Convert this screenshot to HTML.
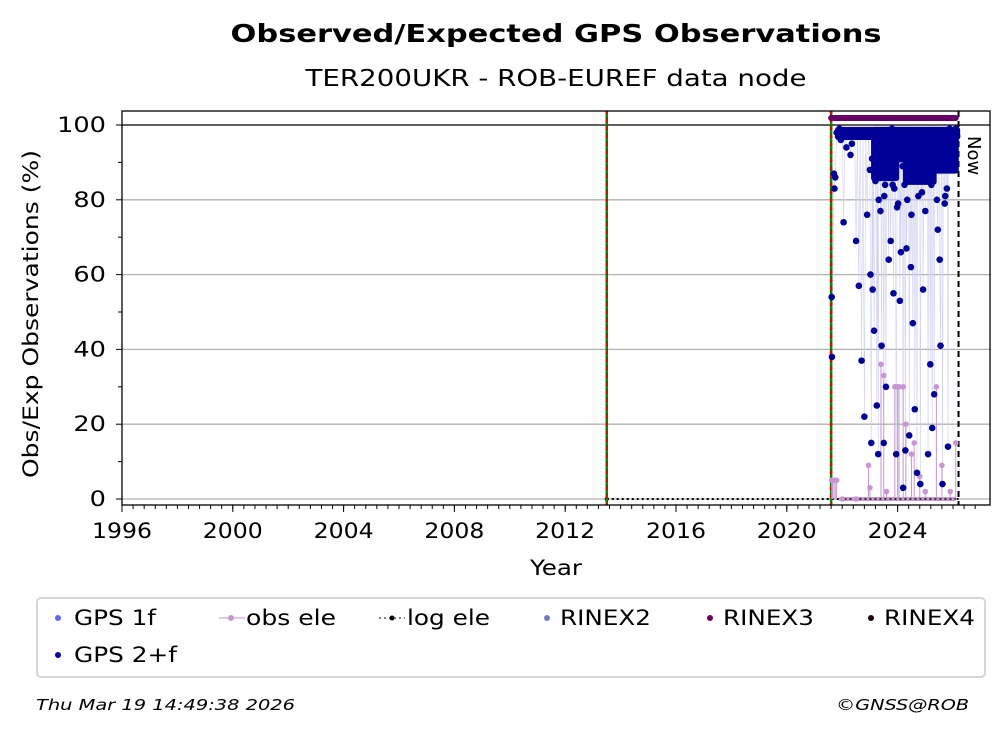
<!DOCTYPE html>
<html><head><meta charset="utf-8"><style>
body{margin:0;background:#fff;font-family:"Liberation Sans","DejaVu Sans",sans-serif}
svg text{font-family:"DejaVu Sans","Liberation Sans",sans-serif}
</style></head><body>
<svg id="c" width="1008" height="734" viewBox="0 0 1008 734" xmlns="http://www.w3.org/2000/svg">
<text x="556" y="42" text-anchor="middle" font-size="25" font-weight="bold" textLength="651" lengthAdjust="spacingAndGlyphs">Observed/Expected GPS Observations</text>
<text x="556" y="86" text-anchor="middle" font-size="23" textLength="501" lengthAdjust="spacingAndGlyphs">TER200UKR - ROB-EUREF data node</text>
<text transform="translate(38,314) rotate(-90)" text-anchor="middle" font-size="21" textLength="328" lengthAdjust="spacingAndGlyphs">Obs/Exp Observations (%)</text>
<text x="556" y="575" text-anchor="middle" font-size="21" textLength="52" lengthAdjust="spacingAndGlyphs">Year</text>
<g id="grid"></g><g id="axes"></g><g id="marks"></g>
<rect x="122" y="111" width="868" height="394" fill="none" stroke="#000" stroke-width="1.3"/>
<text transform="translate(968,136) rotate(90)" font-size="18">Now</text>
<g>
<rect x="37" y="598" width="948" height="79" rx="4" fill="#fff" stroke="#d6d6d6" stroke-width="2"/>
<circle cx="58" cy="618" r="3" fill="#6666ee"/><text x="74" y="625" font-size="21" textLength="82" lengthAdjust="spacingAndGlyphs">GPS 1f</text>
<line x1="219" y1="618" x2="245" y2="618" stroke="#c896d2"/><circle cx="231" cy="618" r="3" fill="#c896d2"/><text x="246" y="625" font-size="21" textLength="90" lengthAdjust="spacingAndGlyphs">obs ele</text>
<line x1="379" y1="618" x2="405" y2="618" stroke="#000" stroke-dasharray="2,3"/><circle cx="392" cy="618" r="2.5" fill="#000"/><text x="407" y="625" font-size="21" textLength="83" lengthAdjust="spacingAndGlyphs">log ele</text>
<circle cx="547" cy="618" r="3" fill="#7777bb"/><text x="560" y="625" font-size="21" textLength="91" lengthAdjust="spacingAndGlyphs">RINEX2</text>
<circle cx="710" cy="618" r="3" fill="#660066"/><text x="723" y="625" font-size="21" textLength="91" lengthAdjust="spacingAndGlyphs">RINEX3</text>
<circle cx="871" cy="618" r="3" fill="#220011"/><text x="884" y="625" font-size="21" textLength="91" lengthAdjust="spacingAndGlyphs">RINEX4</text>
<circle cx="58" cy="655" r="3" fill="#000099"/><text x="74" y="662" font-size="21" textLength="103" lengthAdjust="spacingAndGlyphs">GPS 2+f</text>
</g>
<text x="36" y="710" font-size="15" font-style="italic" textLength="259" lengthAdjust="spacingAndGlyphs">Thu Mar 19 14:49:38 2026</text>
<text x="836" y="710" font-size="15" font-style="italic" textLength="133" lengthAdjust="spacingAndGlyphs">©GNSS@ROB</text>
</svg>
<script>
const xTicks=[1996,2000,2004,2008,2012,2016,2020,2024];
const yTicks=[0,20,40,60,80,100];
const gpsYears=[2021.62,2021.63,2021.7,2021.72,2021.75,2021.8,2021.85,2021.9,2021.95,2022.0,2022.05,2022.1,2022.15,2022.2,2022.25,2022.3,2022.35,2022.4,2022.45,2022.5,2022.55,2022.6,2022.65,2022.7,2022.75,2022.8,2022.85,2022.9,2022.95,2023.0,2023.02,2023.05,2023.08,2023.1,2023.12,2023.15,2023.2,2023.22,2023.25,2023.28,2023.3,2023.32,2023.35,2023.38,2023.4,2023.42,2023.45,2023.48,2023.5,2023.52,2023.55,2023.58,2023.6,2023.62,2023.65,2023.68,2023.7,2023.72,2023.75,2023.78,2023.8,2023.82,2023.85,2023.88,2023.9,2023.92,2023.95,2023.98,2024.0,2024.02,2024.05,2024.08,2024.1,2024.12,2024.15,2024.18,2024.2,2024.22,2024.25,2024.28,2024.3,2024.32,2024.35,2024.38,2024.4,2024.42,2024.45,2024.48,2024.5,2024.52,2024.55,2024.58,2024.6,2024.62,2024.65,2024.68,2024.7,2024.72,2024.75,2024.78,2024.8,2024.82,2024.85,2024.88,2024.9,2024.92,2024.95,2024.98,2025.0,2025.02,2025.05,2025.08,2025.1,2025.12,2025.15,2025.18,2025.2,2025.22,2025.25,2025.28,2025.3,2025.32,2025.35,2025.38,2025.4,2025.42,2025.45,2025.48,2025.5,2025.52,2025.55,2025.58,2025.6,2025.62,2025.65,2025.68,2025.7,2025.72,2025.75,2025.78,2025.8,2025.82,2025.85,2025.88,2025.9,2025.92,2025.95,2025.98,2026.0,2026.02,2026.05,2026.08,2026.1,2026.12,2026.15];
const gpsValues=[54,38,87,83,86,98,97,99,96,98,74,98,94,97,98,92,95,98,97,69,98,57,98,37,98,22,98,76,98,88,60,15,91,56,98,45,85,98,25,93,12,80,98,77,89,41,98,91,15,81,84,30,98,93,87,64,98,90,69,88,99,84,55,83,98,89,12,78,98,79,96,53,91,66,98,89,3,91,84,13,96,67,80,96,88,17,98,62,76,85,47,93,98,24,88,98,7,91,81,96,98,4,89,82,98,56,94,87,77,98,85,98,12,91,92,36,98,84,19,96,92,28,91,88,98,80,72,96,93,64,41,98,88,4,92,98,79,81,97,83,98,14,94,99,96,97,98,90,98,95,97,98,99,98,97];
const bandStart=[2021.85,2023.15,2023.95,2024.3,2025.3];
const bandEnd=[2026.15,2023.95,2024.3,2025.3,2026.1];
const bandLow=[96,85,90,84,87];
const eleYears=[2021.62,2021.65,2021.7,2021.75,2021.8,2022.0,2022.5,2022.95,2023.0,2023.4,2023.5,2023.6,2023.9,2024.0,2024.05,2024.2,2024.3,2024.5,2024.6,2024.8,2025.0,2025.4,2025.6,2025.9,2026.1];
const eleValues=[5,5,5,5,5,0,0,9,3,36,33,2,30,30,30,30,20,12,15,6,2,30,9,2,15];
const rinex3Range=[2021.6,2026.1];
const eventYears=[2013.5,2021.6];
const nowYear=2026.2;
const NS='http://www.w3.org/2000/svg';
const X=y=>122+(y-1996)*27.7, Y=v=>499-v*3.74;
function mk(t,a,p){const e=document.createElementNS(NS,t);for(const k in a)e.setAttribute(k,a[k]);p.appendChild(e);return e;}
const G=document.getElementById('grid'),A=document.getElementById('axes'),M=document.getElementById('marks');
yTicks.forEach(v=>{
 const l=mk('line',{x1:122,x2:990,y1:Y(v),y2:Y(v),stroke:v==100?'#000':'#b0b0b0','stroke-width':1.3},G);
 
 
 mk('line',{x1:116,x2:122,y1:Y(v),y2:Y(v),stroke:'#000'},A);
 const s=String(v);
 const t=mk('text',{x:106,y:Y(v)+7,'text-anchor':'end','font-size':21,textLength:s.length*16.3,lengthAdjust:'spacingAndGlyphs'},A);t.textContent=s;
 
 
});
for(let v=10;v<100;v+=20)mk('line',{x1:118,x2:122,y1:Y(v),y2:Y(v),stroke:'#000'},A);
xTicks.forEach(y=>{
 mk('line',{x1:X(y),x2:X(y),y1:505,y2:512,stroke:'#000'},A);
 const t=mk('text',{x:X(y),y:538,'text-anchor':'middle','font-size':21,textLength:60,lengthAdjust:'spacingAndGlyphs'},A);t.textContent=y;
 
 
});
for(let y=1996;y<=2027;y+=0.4)mk('line',{x1:X(y),x2:X(y),y1:505,y2:509,stroke:'#000'},A);
const lg=mk('line',{x1:X(eventYears[0]),x2:X(nowYear),y1:Y(0),y2:Y(0),stroke:'#000','stroke-width':2,'stroke-dasharray':'2,3'},M);


mk('circle',{cx:X(eventYears[0]),cy:Y(0),r:2,fill:'#000'},M);
const pts=gpsYears.map((y,i)=>X(y)+','+Y(gpsValues[i])).join(' ');
const pl=mk('polyline',{points:pts,fill:'none',stroke:'#d0d0f2','stroke-width':0.6},M);


eventYears.forEach(y=>{
 const l=mk('line',{x1:X(y),x2:X(y),y1:111,y2:505,stroke:'#008000','stroke-width':2.5},M);
 
 
 mk('line',{x1:X(y),x2:X(y),y1:111,y2:505,stroke:'#ee0000','stroke-width':2.5,'stroke-dasharray':'3,5'},M);
});
const nw=mk('line',{x1:X(nowYear),x2:X(nowYear),y1:111,y2:505,stroke:'#000','stroke-width':2,'stroke-dasharray':'6,4'},M);


eleYears.forEach((y,i)=>{
 mk('line',{x1:X(y),x2:X(y),y1:Y(0),y2:Y(eleValues[i]),stroke:'#c896d2','stroke-width':1},M);
});
const eb=mk('line',{x1:X(2021.9),x2:X(2026.1),y1:Y(0),y2:Y(0),stroke:'#c896d2','stroke-width':4},M);


mk('line',{x1:X(2021.9),x2:X(2026.1),y1:Y(0),y2:Y(0),stroke:'#333','stroke-width':2,'stroke-dasharray':'2,3'},M);
eleYears.forEach((y,i)=>{
 const c=mk('circle',{cx:X(y),cy:Y(eleValues[i]),r:2.8,fill:'#c896d2'},M);
 
 
});
gpsYears.forEach((y,i)=>{
 const c=mk('circle',{cx:X(y),cy:Y(gpsValues[i]),r:3.3,fill:'#000099'},M);
 
 
});
bandStart.forEach((s,i)=>{
 const r=mk('rect',{x:X(s)-3,y:Y(99.5),width:X(bandEnd[i])-X(s)+6,height:Y(bandLow[i])-Y(99.5),rx:3,fill:'#000099'},M);
 
 
});
const rb=mk('line',{x1:X(rinex3Range[0]),x2:X(rinex3Range[1]),y1:118,y2:118,stroke:'#660066','stroke-width':6,'stroke-linecap':'round'},M);


</script>
</body></html>
